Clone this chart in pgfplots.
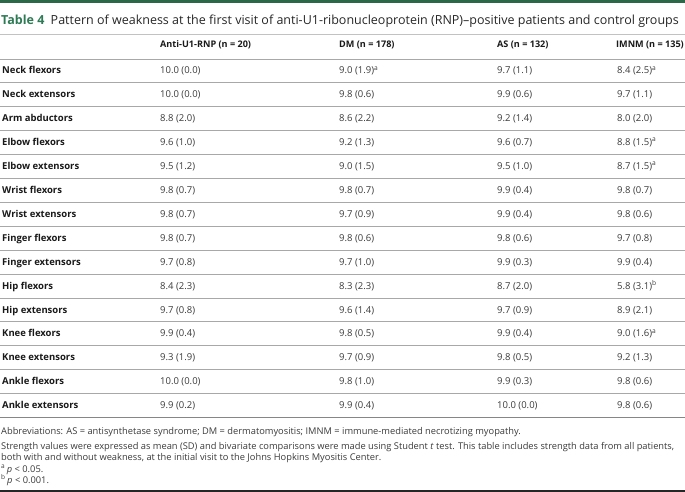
\documentclass[border=0pt]{standalone}
\usepackage{pgfplots}
\usepackage{pgfplotstable}
\pgfplotsset{compat=1.18}
\usepackage{fontspec}
\setmainfont{Open Sans}
\definecolor{tgreen}{HTML}{2E7A55}
\definecolor{barg}{HTML}{2A6848}
\definecolor{rule}{HTML}{A8A8A8}
\definecolor{txt}{HTML}{3A3A3A}
\newcommand\flag[1]{\edef\tmpf{#1}\if\tmpf n\else\textsuperscript{\tmpf}\fi}
\newcommand\pn[1]{\pgfmathprintnumber[fixed, fixed zerofill, precision=1, assume math mode=true]{#1}}
\pgfplotstableread[col sep=comma]{
r,name,m1,s1,f1,m2,s2,f2,m3,s3,f3,m4,s4,f4
0,Neck flexors,10.0,0.0,n,9.0,1.9,a,9.7,1.1,n,8.4,2.5,a
1,Neck extensors,10.0,0.0,n,9.8,0.6,n,9.9,0.6,n,9.7,1.1,n
2,Arm abductors,8.8,2.0,n,8.6,2.2,n,9.2,1.4,n,8.0,2.0,n
3,Elbow flexors,9.6,1.0,n,9.2,1.3,n,9.6,0.7,n,8.8,1.5,a
4,Elbow extensors,9.5,1.2,n,9.0,1.5,n,9.5,1.0,n,8.7,1.5,a
5,Wrist flexors,9.8,0.7,n,9.8,0.7,n,9.9,0.4,n,9.8,0.7,n
6,Wrist extensors,9.8,0.7,n,9.7,0.9,n,9.9,0.4,n,9.8,0.6,n
7,Finger flexors,9.8,0.7,n,9.8,0.6,n,9.8,0.6,n,9.7,0.8,n
8,Finger extensors,9.7,0.8,n,9.7,1.0,n,9.9,0.3,n,9.9,0.4,n
9,Hip flexors,8.4,2.3,n,8.3,2.3,n,8.7,2.0,n,5.8,3.1,b
10,Hip extensors,9.7,0.8,n,9.6,1.4,n,9.7,0.9,n,8.9,2.1,n
11,Knee flexors,9.9,0.4,n,9.8,0.5,n,9.9,0.4,n,9.0,1.6,a
12,Knee extensors,9.3,1.9,n,9.7,0.9,n,9.8,0.5,n,9.2,1.3,n
13,Ankle flexors,10.0,0.0,n,9.8,1.0,n,9.9,0.3,n,9.8,0.6,n
14,Ankle extensors,9.9,0.2,n,9.9,0.4,n,10.0,0.0,n,9.8,0.6,n
}\tbl
\pgfplotsset{
  cellplot/.style={only marks, mark=none, point meta=explicit symbolic,
    every node near coord/.append style={anchor=base west, inner sep=0pt, font=\fontsize{9.5}{11}\selectfont, text=txt}},
  valcol/.style={cellplot,
    visualization depends on={\thisrow{m#1}\as\mv},
    visualization depends on={\thisrow{s#1}\as\sv},
    nodes near coords={\pn{\mv}\ (\pn{\sv})\flag{\pgfplotspointmeta}}}
}
\begin{document}
\begin{tikzpicture}
\begin{axis}[hide axis, scale only axis, width=685pt, height=492pt,
  xmin=0, xmax=685, ymin=0, ymax=492, y dir=reverse, clip=false]
% frame
\fill[barg] (axis cs:0,0) rectangle (axis cs:685,3.5);
\node[anchor=base west, inner sep=0pt, font=\fontsize{12.5}{14}\selectfont, text=black!85] at (axis cs:1,24.5)
  {{\color{tgreen}\bfseries Table 4}\enspace Pattern of weakness at the first visit of anti-U1-ribonucleoprotein (RNP)--positive patients and control groups};
\draw[rule!70, line width=0.7pt] (axis cs:0,34) -- (axis cs:685,34);
% header
\node[anchor=base west, inner sep=0pt, font=\fontsize{9.1}{11}\selectfont\bfseries, text=black!90] at (axis cs:160,47.5) {Anti-U1-RNP (n = 20)};
\node[anchor=base west, inner sep=0pt, font=\fontsize{9.1}{11}\selectfont\bfseries, text=black!90] at (axis cs:339,47.5) {DM (n = 178)};
\node[anchor=base west, inner sep=0pt, font=\fontsize{9.1}{11}\selectfont\bfseries, text=black!90] at (axis cs:497,47.5) {AS (n = 132)};
\node[anchor=base west, inner sep=0pt, font=\fontsize{9.1}{11}\selectfont\bfseries, text=black!90] at (axis cs:616,47.5) {IMNM (n = 135)};
% rules
\pgfplotsinvokeforeach{0,...,14}{
  \draw[rule, line width=0.9pt] (axis cs:0,{59+23.9*#1}) -- (axis cs:685,{59+23.9*#1});
}
\draw[rule!80!black, line width=1pt] (axis cs:0,417.5) -- (axis cs:685,417.5);
% body
\addplot[cellplot, nodes near coords={\textbf{\pgfplotspointmeta}},
  every node near coord/.append style={text=black!90}]
  table[x expr=2, y expr=74+23.9*\thisrow{r}, meta=name] {\tbl};
\addplot[valcol=1] table[x expr=160, y expr=74+23.9*\thisrow{r}, meta=f1] {\tbl};
\addplot[valcol=2] table[x expr=339, y expr=74+23.9*\thisrow{r}, meta=f2] {\tbl};
\addplot[valcol=3] table[x expr=497, y expr=74+23.9*\thisrow{r}, meta=f3] {\tbl};
\addplot[valcol=4] table[x expr=617, y expr=74+23.9*\thisrow{r}, meta=f4] {\tbl};
% footnotes
\node[anchor=base west, inner sep=0pt, font=\fontsize{9.3}{11}\selectfont, text=txt] at (axis cs:1,434.5) {Abbreviations: AS = antisynthetase syndrome; DM = dermatomyositis; IMNM = immune-mediated necrotizing myopathy.};
\node[anchor=base west, inner sep=0pt, font=\fontsize{9.3}{11}\selectfont, text=txt] at (axis cs:1,449) {Strength values were expressed as mean (SD) and bivariate comparisons were made using Student \textit{t} test. This table includes strength data from all patients,};
\node[anchor=base west, inner sep=0pt, font=\fontsize{9.3}{11}\selectfont, text=txt] at (axis cs:1,460.5) {both with and without weakness, at the initial visit to the Johns Hopkins Myositis Center.};
\node[anchor=base west, inner sep=0pt, font=\fontsize{9.3}{11}\selectfont, text=txt] at (axis cs:1,472) {\textsuperscript{a}\,\textit{p} < 0.05.};
\node[anchor=base west, inner sep=0pt, font=\fontsize{9.3}{11}\selectfont, text=txt] at (axis cs:1,483.5) {\textsuperscript{b}\,\textit{p} < 0.001.};
\draw[black!85, line width=2pt] (axis cs:0,491) -- (axis cs:685,491);
\end{axis}
\pgfresetboundingbox
\path (current axis.south west) rectangle (current axis.north east);
\end{tikzpicture}
\end{document}
